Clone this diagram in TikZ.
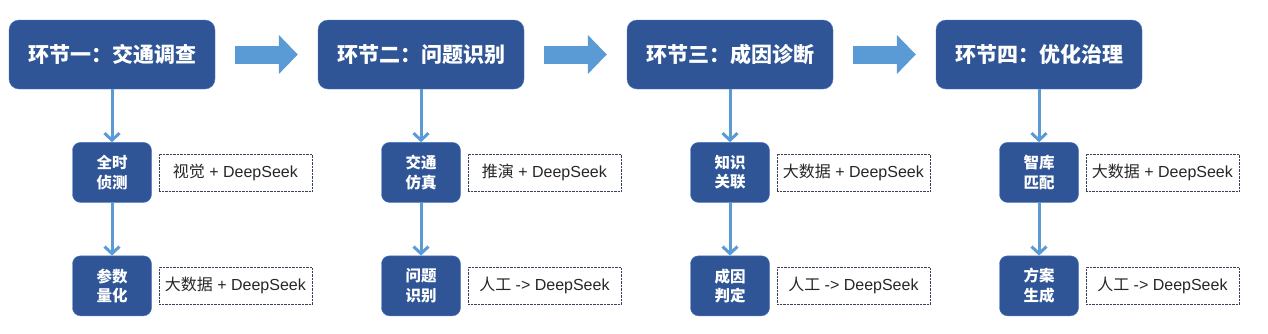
\documentclass[tikz,border=0pt]{standalone}
\usepackage{fontspec}
\setmainfont{Liberation Sans}
\newfontfamily\cjk{Noto Sans CJK SC}
\usetikzlibrary{positioning, arrows.meta}
\definecolor{dblue}{RGB}{47,85,151}
\definecolor{eblue}{RGB}{72,118,196}
\definecolor{lblue}{RGB}{91,155,213}
\definecolor{dgray}{RGB}{55,65,90}

\begin{document}
\begin{tikzpicture}[x=1pt, y=1pt,
        stage/.style={draw=eblue, fill=dblue, rounded corners=10pt, minimum width=206pt, minimum height=69pt, inner sep=0pt, text=white, font=\cjk\fontsize{21}{24}\selectfont\bfseries},
        sub/.style={draw=eblue, fill=dblue, rounded corners=8pt, minimum width=79pt, minimum height=60pt, inner sep=0pt, align=center, text=white, font=\cjk\fontsize{15.5}{19.5}\selectfont\bfseries},
        tag/.style={draw=dgray, densely dotted, minimum width=153pt, minimum height=37pt, inner sep=0pt, text=black!85, font=\fontsize{16}{18}\selectfont},
        big/.style={line width=18pt, lblue, shorten <=20pt, shorten >=20pt, -{Triangle[length=19pt, width=38pt]}},
        arr/.style={line width=3pt, lblue, -{Straight Barb[length=7pt, width=15pt]}}]
      \useasboundingbox (0,0) rectangle (1268,-333);

      % four stages, each with two steps and their tags
      \foreach \i/\title/\stepA/\stepB/\tagA/\tagB in {
          1/环节一：交通调查/全时\\侦测/参数\\量化/{{\cjk 视觉} + DeepSeek}/{{\cjk 大数据} + DeepSeek},
          2/环节二：问题识别/交通\\仿真/问题\\识别/{{\cjk 推演} + DeepSeek}/{{\cjk 人工} -> DeepSeek},
          3/环节三：成因诊断/知识\\关联/成因\\判定/{{\cjk 大数据} + DeepSeek}/{{\cjk 人工} -> DeepSeek},
          4/环节四：优化治理/智库\\匹配/方案\\生成/{{\cjk 大数据} + DeepSeek}/{{\cjk 人工} -> DeepSeek}} {
        \node[stage] at (112+309*\i-309, -54.5) (s\i) {\title};
        \node[sub, below=53pt of s\i] (a\i) {\stepA};
        \node[sub, below=53pt of a\i] (b\i) {\stepB};
        \node[tag, right=7pt of a\i] (ta\i) {\tagA};
        \node[tag, right=7pt of b\i] (tb\i) {\tagB};
        \draw[arr] (s\i.south) -- (a\i.north);
        \draw[arr] (a\i.south) -- (b\i.north);
      }

      \foreach \i in {1,2,3} {
        \pgfmathtruncatemacro{\j}{\i+1}
        \draw[big] (s\i.east) -- (s\j.west);
      }
    \end{tikzpicture}
\end{document}
